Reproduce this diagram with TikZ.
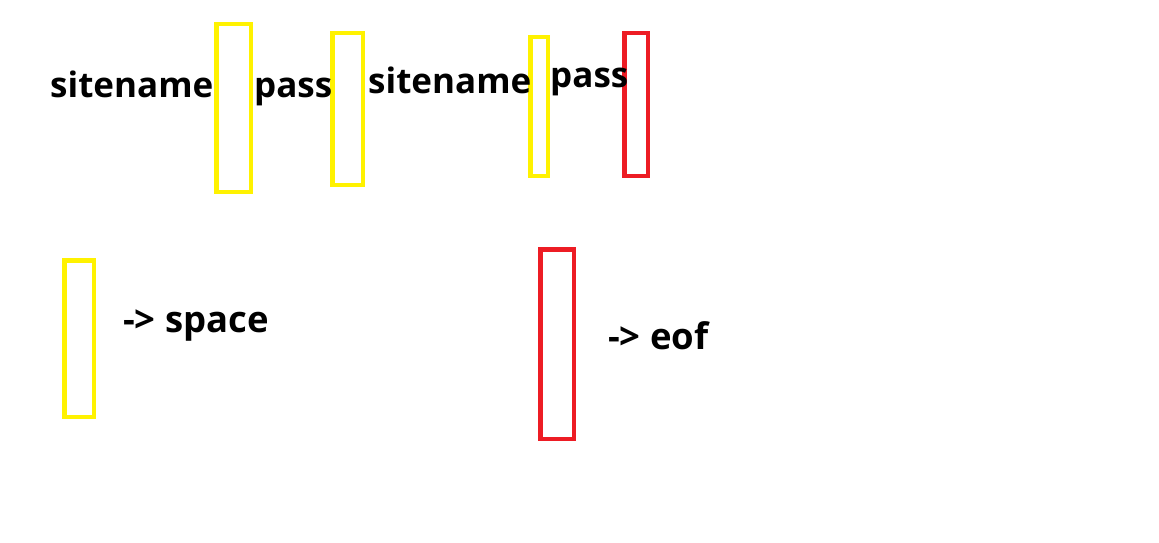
\documentclass[tikz,border=0pt]{standalone}
\usepackage{fontspec}
\setmainfont{Open Sans}
\definecolor{pyellow}{HTML}{FFF200}
\definecolor{pred}{HTML}{ED1C24}
\begin{document}
\begin{tikzpicture}[x=1pt,y=-1pt,
  ybox/.style={draw=pyellow,line width=4.5pt,inner sep=0pt,fill=none},
  rbox/.style={draw=pred,line width=4.5pt,inner sep=0pt,fill=none},
  word/.style={anchor=base west,inner sep=0pt,font=\fontsize{35}{40}\selectfont\bfseries},
  legend/.style={word,font=\fontsize{36.5}{42}\selectfont\bfseries}]
\useasboundingbox (0,0) rectangle (1159,543);
\fill[white] (0,0) rectangle (1159,543);
% top row boxes
\node[ybox,minimum width=34.5pt,minimum height=167.5pt] (r1) at (233.5,108) {};
\node[ybox,minimum width=30.5pt,minimum height=151.5pt] (r2) at (347.5,109) {};
\node[ybox,minimum width=17.5pt,minimum height=138.5pt] (r3) at (539,106.5) {};
\node[rbox,minimum width=23.5pt,minimum height=142.5pt] (r4) at (636,104.5) {};
% top row words
\node[word] (w1) at (50,97) {sitename};
\node[word] (w2) at (254,97) {pass};
\node[word] (w3) at (368,93) {sitename};
\node[word] (w4) at (550,88) {pass};
% legend
\node[ybox,minimum width=29.5pt,minimum height=156.5pt] (ly) at (79,338.5) {};
\node[legend] (ls) at (123,332) {-> space};
\node[rbox,minimum width=33.5pt,minimum height=189.5pt] (lr) at (557,344) {};
\node[legend] (le) at (608,349) {-> eof};
\end{tikzpicture}
\end{document}
